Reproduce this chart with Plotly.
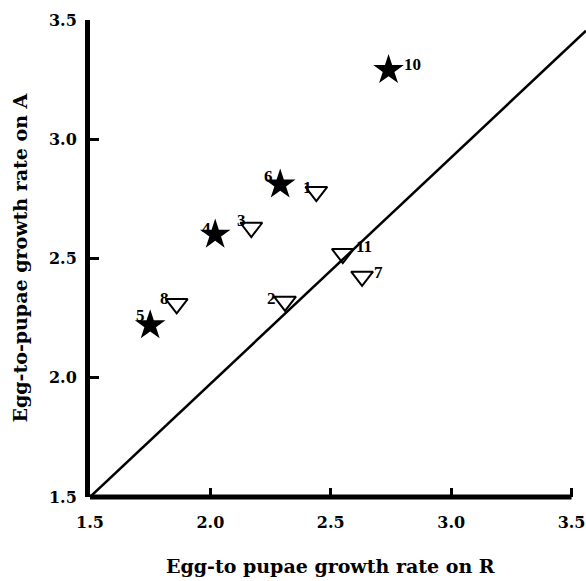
import plotly.graph_objects as go

# Data
star_x = [2.74, 2.29, 2.02, 1.75]
star_y = [3.29, 2.81, 2.60, 2.22]
star_lab = ["10", "6", "4", "5"]

tri_x = [2.44, 2.17, 2.55, 2.63, 1.86, 2.31]
tri_y = [2.78, 2.63, 2.52, 2.425, 2.31, 2.32]
tri_lab = ["1", "3", "11", "7", "8", "2"]

line_x = [1.5, 3.56]
line_y = [1.5, 3.455]

ticks = [1.5, 2.0, 2.5, 3.0, 3.5]
tick_text = ["1.5", "2.0", "2.5", "3.0", "3.5"]

# label placement offsets in pixels (style only)
star_off = [(24, 6), (-12, 8), (-9, 6), (-10, 10)]
tri_off = [(-9, 4), (-10, 7), (21, 7), (16, 4), (-12, 5), (-14, 3)]

serif = "Liberation Serif"
dserif = "DejaVu Serif"

fig = go.Figure()
fig.add_trace(go.Scatter(x=line_x, y=line_y, mode="lines",
                         line=dict(color="black", width=2.5), hoverinfo="skip"))
fig.add_trace(go.Scatter(x=star_x, y=star_y, mode="markers",
                         marker=dict(symbol="star", size=23, color="black")))
fig.add_trace(go.Scatter(x=tri_x, y=tri_y, mode="markers",
                         marker=dict(symbol="triangle-down-open", size=19, color="black",
                                     line=dict(width=2, color="black"))))

labfont = dict(family=serif, size=17, color="black", weight="bold")
annotations = []
for xs, ys, labs, offs in [(star_x, star_y, star_lab, star_off), (tri_x, tri_y, tri_lab, tri_off)]:
    for x, y, t, (dx, dy) in zip(xs, ys, labs, offs):
        annotations.append(dict(x=x, y=y, xref="x", yref="y", text=t, showarrow=False,
                                xshift=dx, yshift=dy, font=labfont,
                                xanchor="center", yanchor="middle"))

tickfont = dict(family=dserif, size=16, color="black", weight="bold")
titlefont = dict(family=dserif, size=19, color="black", weight="bold")

annotations.append(dict(text="Egg-to pupae growth rate on R", xref="x", yref="paper",
                        x=2.5, y=0, yshift=-69, xanchor="center", yanchor="middle",
                        showarrow=False, font=titlefont))
annotations.append(dict(text="Egg-to-pupae growth rate on A", xref="paper", yref="paper",
                        x=0, y=0.5, xshift=-71, xanchor="center", yanchor="middle",
                        textangle=-90, showarrow=False, font=titlefont))

fig.update_layout(
    width=586, height=581,
    margin=dict(l=90, r=0, t=20, b=84),
    paper_bgcolor="white", plot_bgcolor="white",
    showlegend=False,
    xaxis=dict(range=[1.5, 3.56], tickvals=ticks, ticktext=tick_text,
               ticks="inside", ticklen=9, tickwidth=3, tickcolor="black",
               showline=False, showgrid=False, zeroline=False, automargin=False,
               tickfont=tickfont, ticklabelstandoff=14),
    yaxis=dict(range=[1.5, 3.5], tickvals=ticks, ticktext=tick_text,
               ticks="inside", ticklen=9, tickwidth=3, tickcolor="black",
               showline=True, linewidth=5, linecolor="black",
               showgrid=False, zeroline=False, automargin=False,
               tickfont=tickfont, ticklabelstandoff=5),
    shapes=[dict(type="line", xref="x", yref="paper", x0=ticks[0], x1=ticks[-1],
                 y0=0, y1=0, line=dict(color="black", width=5))],
    annotations=annotations,
)

fig.write_html("out.html", post_script="document.body.style.margin='0';",
               config={"displayModeBar": False})
